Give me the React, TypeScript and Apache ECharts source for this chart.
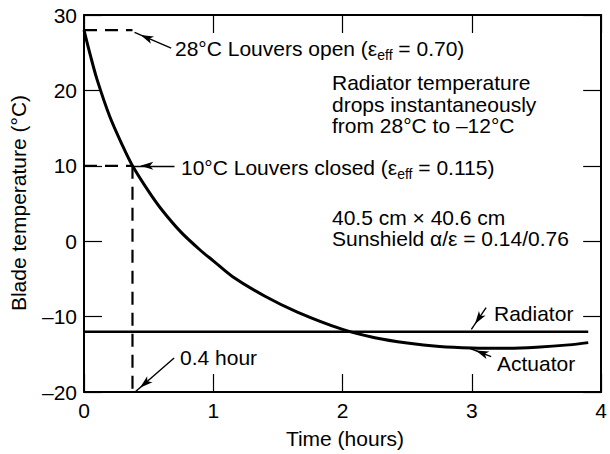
import { useEffect, useRef } from 'react';
import * as echarts from 'echarts';

const FONT = '"Liberation Sans", Arial, Helvetica, sans-serif';

// Actuator (blade) temperature curve
const timeHours = [0, 0.05, 0.1, 0.2, 0.3, 0.375, 0.5, 0.6, 0.75, 0.9, 1.0, 1.15, 1.4, 1.65, 2.0, 2.25, 2.5, 2.75, 3.0, 3.25, 3.5, 3.75, 3.9];
const actuatorTemp = [28, 24.6, 21.5, 16.5, 12.6, 10.0, 6.6, 4.2, 1.2, -1.2, -2.6, -4.7, -7.3, -9.4, -11.7, -12.8, -13.5, -13.95, -14.15, -14.2, -14.05, -13.75, -13.45];

// Radiator temperature (constant after the instantaneous drop)
const radiatorTime = [0, 3.9];
const radiatorTemp = [-12, -12];

// Dashed guide lines
const guideOpen = [[0, 28], [0.375, 28]];
const guideClosedH = [[0, 10], [0.375, 10]];
const guideClosedV = [[0.375, 10], [0.375, -20]];

// Annotation arrows: [fromTime, fromTemp, toTime, toTemp]
const arrowSpecs = [
  [0.674, 25.6, 0.391, 27.7],
  [0.70, 10, 0.385, 10],
  [0.697, -15.5, 0.395, -20],
  [3.11, -8.8, 2.996, -11.7],
  [3.149, -15.3, 2.983, -14.2],
];

const xTicks = { min: 0, max: 4, interval: 1 };
const yTicks = { min: -20, max: 30, interval: 10 };

const fmtY = (v: number) => (v < 0 ? '\u2013' + Math.abs(v) : String(v));

export default function App() {
  const ref = useRef<HTMLDivElement>(null);
  useEffect(() => {
    if (!ref.current) return;
    const chart = echarts.init(ref.current, null, { renderer: 'svg' });
    const black = '#000';
    const axisBase = {
      type: 'value' as const,
      splitLine: { show: false },
      axisLine: { show: true, onZero: false, lineStyle: { color: black, width: 2 } },
      axisTick: { show: true, inside: true, length: 18, lineStyle: { color: black, width: 1.2 } },
    };
    const labelStyle = { color: black, fontSize: 21, fontFamily: FONT };
    const sub = { fontSize: 14, fontFamily: FONT, fill: black, padding: [14, 0, 0, 0] };
    const txt = (x: number, y: number, text: string, extra: any = {}) => ({
      type: 'text',
      x,
      y,
      silent: true,
      style: {
        text,
        fill: black,
        fontSize: 21,
        fontFamily: FONT,
        align: 'left',
        textAlign: 'left',
        verticalAlign: 'middle',
        textVerticalAlign: 'middle',
        rich: { sub },
        ...extra,
      },
    });
    const dashed = (data: number[][]) => ({
      type: 'line',
      data,
      showSymbol: false,
      symbol: 'none',
      silent: true,
      lineStyle: { color: black, width: 2.2, type: [13, 8] },
      z: 2,
    });
    chart.setOption({
      animation: false,
      grid: { left: 84, right: 4, top: 15, bottom: 62, containLabel: false },
      xAxis: [
        { ...axisBase, ...xTicks, position: 'bottom', axisLabel: { ...labelStyle, margin: 8 } },
        { ...axisBase, ...xTicks, position: 'top', axisLabel: { show: false } },
      ],
      yAxis: [
        { ...axisBase, ...yTicks, position: 'left', axisLabel: { ...labelStyle, margin: 7, formatter: fmtY } },
        { ...axisBase, ...yTicks, position: 'right', axisLabel: { show: false } },
      ],
      series: [
        {
          name: 'Actuator',
          type: 'line',
          data: timeHours.map((t, i) => [t, actuatorTemp[i]]),
          showSymbol: false,
          symbol: 'none',
          smooth: 0.3,
          silent: true,
          lineStyle: { color: black, width: 3 },
          z: 3,
        },
        {
          name: 'Radiator',
          type: 'line',
          data: radiatorTime.map((t, i) => [t, radiatorTemp[i]]),
          showSymbol: false,
          symbol: 'none',
          silent: true,
          lineStyle: { color: black, width: 2.5 },
          z: 3,
          markLine: {
            silent: true,
            animation: false,
            label: { show: false },
            lineStyle: { color: black, width: 1.4, type: 'solid' },
            data: arrowSpecs.map(([x1, y1, x2, y2]) => [
              { coord: [x1, y1], symbol: 'none' },
              { coord: [x2, y2], symbol: 'arrow', symbolSize: [6, 13], symbolOffset: [0, 6.5] },
            ]),
          },
        },
        dashed(guideOpen),
        dashed(guideClosedH),
        dashed(guideClosedV),
      ],
      graphic: [
        txt(175, 48, '28°C Louvers open (ε{sub|eff} = 0.70)'),
        txt(332, 104, 'Radiator temperature\ndrops instantaneously\nfrom 28°C to \u201312°C', { lineHeight: 21.5 }),
        txt(181, 167, '10°C Louvers closed (ε{sub|eff} = 0.115)'),
        txt(332, 228, '40.5 cm × 40.6 cm\nSunshield α/ε = 0.14/0.76', { lineHeight: 21.5 }),
        txt(494, 313, 'Radiator'),
        txt(497, 363, 'Actuator'),
        txt(180, 357, '0.4 hour'),
        txt(345, 438, 'Time (hours)', { align: 'center', textAlign: 'center' }),
        {
          type: 'text',
          x: 18,
          y: 203,
          rotation: Math.PI / 2,
          silent: true,
          style: {
            text: 'Blade temperature (°C)',
            fill: black,
            fontSize: 21,
            fontFamily: FONT,
            align: 'center',
            textAlign: 'center',
            verticalAlign: 'middle',
            textVerticalAlign: 'middle',
          },
        },
      ],
    });
    return () => chart.dispose();
  }, []);
  return (
    <div
      ref={ref}
      style={{ position: 'absolute', left: 0, top: 0, width: 610, height: 454, background: '#fff' }}
    />
  );
}
